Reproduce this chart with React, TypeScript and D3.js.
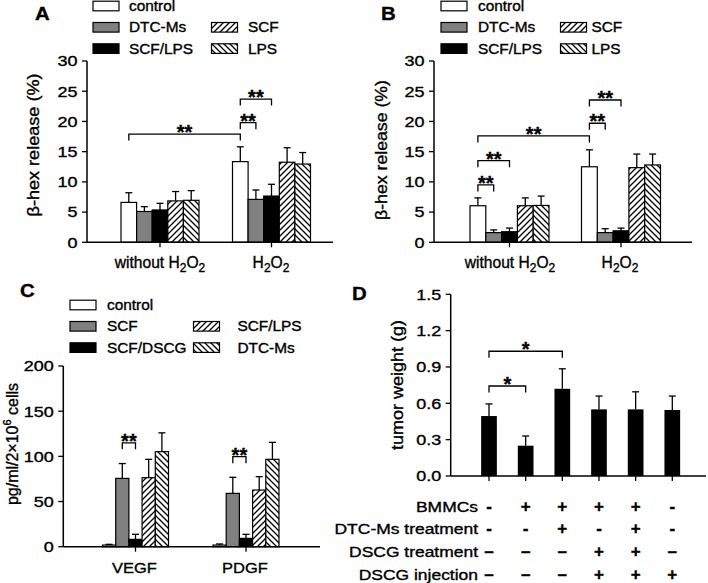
import React from "react";
import * as d3 from "d3";

const FONT = "Arial, 'Liberation Sans', Helvetica, sans-serif";

// ---------- Data ----------
const abFills = ["white", "#808080", "black", "url(#hatchF)", "url(#hatchB)"];
const abSeries = ["control", "DTC-Ms", "SCF/LPS", "SCF", "LPS"];
const aMeans = [
  [6.6, 5.1, 5.35, 6.85, 6.95],
  [13.35, 7.1, 7.65, 13.25, 12.95],
];
const aErrs = [
  [1.6, 0.8, 1.1, 1.55, 1.6],
  [2.45, 1.55, 1.95, 2.4, 1.9],
];
const bMeans = [
  [6.05, 1.6, 1.75, 6.05, 6.1],
  [12.5, 1.6, 1.9, 12.35, 12.8],
];
const bErrs = [
  [1.3, 0.45, 0.6, 1.3, 1.55],
  [2.8, 0.65, 0.45, 2.25, 1.8],
];
const abTicks = [0, 5, 10, 15, 20, 25, 30];

const cSeries = ["control", "SCF", "SCF/DSCG", "SCF/LPS", "DTC-Ms"];
const cFills = ["white", "#808080", "black", "url(#hatchF)", "url(#hatchB)"];
const cCategories = ["VEGF", "PDGF"];
const cMeans = [
  [1.8, 75.6, 8.1, 76.4, 105.2],
  [1.8, 59, 9.2, 62.7, 96.7],
];
const cErrs = [
  [0.8, 16.4, 5.6, 20.3, 20.8],
  [1.2, 17.8, 4.5, 14.8, 18.8],
];
const cTicks = [0, 50, 100, 150, 200];

const dMeans = [0.495, 0.25, 0.72, 0.55, 0.55, 0.545];
const dErrs = [0.1, 0.08, 0.165, 0.11, 0.145, 0.115];
const dTicks = [0, 0.3, 0.6, 0.9, 1.2, 1.5];
const dRowLabels = ["BMMCs", "DTC-Ms treatment", "DSCG treatment", "DSCG injection"];
const dRowSigns = [
  ["-", "+", "+", "+", "+", "-"],
  ["-", "-", "+", "-", "+", "-"],
  ["–", "–", "–", "+", "+", "–"],
  ["–", "–", "–", "+", "+", "+"],
];

// brackets: [group1, series1, group2, series2, yValue, label]
const aBrackets = [
  [0, 0, 1, 0, 17.9, "**"],
  [1, 0, 1, 1, 19.8, "**"],
  [1, 0, 1, 2, 23.7, "**"],
];
const bBrackets = [
  [0, 0, 0, 1, 9.5, "**"],
  [0, 0, 0, 2, 13.5, "**"],
  [0, 0, 1, 0, 17.6, "**"],
  [1, 0, 1, 1, 19.7, "**"],
  [1, 0, 1, 2, 23.55, "**"],
];
const cBrackets = [
  [0, 1, 0, 2, 115, "**"],
  [1, 1, 1, 2, 99.6, "**"],
];
const dBrackets = [
  [0, 1, 0.743, "*"],
  [0, 2, 1.03, "*"],
];

// ---------- Helpers ----------
function ST({ x, y, sx = 1, size, anchor = "start", weight = "normal", dy = 0, children }) {
  return (
    <text
      transform={`translate(${x},${y}) scale(${sx},1)`}
      dy={dy}
      textAnchor={anchor}
      fontSize={size}
      fontWeight={weight}
      fontFamily={FONT}
    >
      {children}
    </text>
  );
}

function Bracket({ x1, x2, y, label, leg = 6.5, size = 20 }) {
  return (
    <g>
      <path
        d={`M${x1},${y + leg}V${y}H${x2}V${y + leg}`}
        fill="none"
        stroke="black"
        strokeWidth={1.3}
      />
      <text x={(x1 + x2) / 2} y={y + 5} textAnchor="middle" fontSize={size} fontWeight="bold" fontFamily={FONT}>
        {label}
      </text>
    </g>
  );
}

function YAxis({ x, scale, ticks, fmt }) {
  const [r0, r1] = scale.range();
  return (
    <g>
      <line x1={x} x2={x} y1={r0} y2={r1} stroke="black" strokeWidth={1.5} />
      {ticks.map((t) => (
        <g key={t}>
          <line x1={x - 5} x2={x} y1={scale(t)} y2={scale(t)} stroke="black" strokeWidth={1.3} />
          <ST x={x - 9.5} y={scale(t)} dy="0.36em" sx={1.2} size={15} anchor="end">
            {fmt ? fmt(t) : t}
          </ST>
        </g>
      ))}
    </g>
  );
}

function Legend({ x1, tx1, x2, tx2, y0, series, fills }) {
  const pos = [
    [x1, tx1, 0],
    [x1, tx1, 1],
    [x1, tx1, 2],
    [x2, tx2, 1],
    [x2, tx2, 2],
  ];
  return (
    <g>
      {series.map((s, i) => {
        const [sx, tx, r] = pos[i];
        const cy = y0 + r * 21.3;
        return (
          <g key={s}>
            <rect x={sx} y={cy - 4.8} width={26} height={9.6} fill={fills[i]} stroke="black" strokeWidth={1.2} />
            <ST x={tx} y={cy} dy="0.36em" sx={1.1} size={14}>
              {s}
            </ST>
          </g>
        );
      })}
    </g>
  );
}

function H2O2({ x, y, prefix }) {
  return (
    <text x={x} y={y} textAnchor="middle" fontSize={15.6} fontFamily={FONT}>
      {prefix}H
      <tspan fontSize={12} dy={4}>2</tspan>
      <tspan dy={-4}>O</tspan>
      <tspan fontSize={12} dy={4}>2</tspan>
    </text>
  );
}

function GroupedPanel({ axisX, axisEnd, yScale, ticks, centers, groupW, means, errs, fills, brackets }) {
  const xc = d3.scaleLinear().domain([0, 1]).range(centers);
  const band = d3.scaleBand().domain(d3.range(means[0].length)).range([-groupW / 2, groupW / 2]).padding(0);
  const bw = band.bandwidth();
  const y0 = yScale(0);
  const barCenter = (g, s) => xc(g) + band(s) + bw / 2;
  return (
    <g>
      {means.map((row, g) =>
        row.map((v, s) => {
          const x = xc(g) + band(s);
          const top = yScale(v);
          const et = yScale(v + errs[g][s]);
          const cx = x + bw / 2;
          return (
            <g key={`${g}-${s}`}>
              <line x1={cx} x2={cx} y1={top} y2={et} stroke="black" strokeWidth={1.3} />
              <line x1={cx - 3.5} x2={cx + 3.5} y1={et} y2={et} stroke="black" strokeWidth={1.3} />
              <rect x={x} y={top} width={bw} height={y0 - top} fill={fills[s]} stroke="black" strokeWidth={1.2} />
            </g>
          );
        })
      )}
      <line x1={axisX} x2={axisEnd} y1={y0} y2={y0} stroke="black" strokeWidth={1.5} />
      {centers.map((c, i) => (
        <line key={i} x1={xc(i)} x2={xc(i)} y1={y0} y2={y0 + 5} stroke="black" strokeWidth={1.3} />
      ))}
      <YAxis x={axisX} scale={yScale} ticks={ticks} />
      {brackets.map((b, i) => (
        <Bracket key={i} x1={barCenter(b[0], b[1])} x2={barCenter(b[2], b[3])} y={yScale(b[4])} label={b[5]} />
      ))}
    </g>
  );
}

function VLabel({ x, y, len, children }) {
  return (
    <text
      transform={`translate(${x},${y}) rotate(-90)`}
      textAnchor="middle"
      fontSize={16}
      fontFamily={FONT}
      textLength={len}
      lengthAdjust="spacingAndGlyphs"
    >
      {children}
    </text>
  );
}

export default function App() {
  const yA = d3.scaleLinear().domain([0, 30]).range([242.3, 61]);
  const yC = d3.scaleLinear().domain([0, 200]).range([546.7, 366]);
  const yD = d3.scaleLinear().domain([0, 1.5]).range([476, 294.3]);
  const xD = d3.scaleLinear().domain([0, 5]).range([489, 672.3]);
  const dBw = 15.7;

  return (
    <svg
      width={708}
      height={583}
      style={{ position: "absolute", left: 0, top: 0, background: "white" }}
      fontFamily={FONT}
    >
      <style>{`text { stroke: black; stroke-width: 0.35px; }`}</style>
      <defs>
        <pattern id="hatchF" patternUnits="userSpaceOnUse" width={6} height={6}>
          <rect width={6} height={6} fill="white" />
          <path d="M-1,1L1,-1M0,6L6,0M5,7L7,5" stroke="black" strokeWidth={1.3} />
        </pattern>
        <pattern id="hatchB" patternUnits="userSpaceOnUse" width={6} height={6}>
          <rect width={6} height={6} fill="white" />
          <path d="M-1,5L1,7M0,0L6,6M5,-1L7,1" stroke="black" strokeWidth={1.3} />
        </pattern>
      </defs>

      {/* Panel A */}
      <ST x={35} y={20} sx={1.1} size={18.5} weight="bold">A</ST>
      <Legend x1={93} tx1={129} x2={211.5} tx2={248} y0={6} series={abSeries} fills={abFills} />
      <GroupedPanel
        axisX={87}
        axisEnd={333}
        yScale={yA}
        ticks={abTicks}
        centers={[160, 271.5]}
        groupW={78}
        means={aMeans}
        errs={aErrs}
        fills={abFills}
        brackets={aBrackets}
      />
      <VLabel x={38.5} y={145} len={143}>β-hex release (%)</VLabel>
      <H2O2 x={160} y={268} prefix="without " />
      <H2O2 x={271} y={268} prefix="" />

      {/* Panel B */}
      <ST x={381} y={20} sx={1.1} size={18.5} weight="bold">B</ST>
      <Legend x1={441} tx1={478} x2={560.5} tx2={591.5} y0={6} series={abSeries} fills={abFills} />
      <GroupedPanel
        axisX={434}
        axisEnd={692}
        yScale={yA}
        ticks={abTicks}
        centers={[509.5, 621]}
        groupW={79}
        means={bMeans}
        errs={bErrs}
        fills={abFills}
        brackets={bBrackets}
      />
      <VLabel x={386.5} y={150} len={140}>β-hex release (%)</VLabel>
      <H2O2 x={510} y={268} prefix="without " />
      <H2O2 x={620} y={268} prefix="" />

      {/* Panel C */}
      <ST x={20} y={297} sx={1.1} size={18.5} weight="bold">C</ST>
      <Legend x1={70} tx1={107} x2={193.5} tx2={237.5} y0={305} series={cSeries} fills={cFills} />
      <GroupedPanel
        axisX={63.3}
        axisEnd={320}
        yScale={yC}
        ticks={cTicks}
        centers={[135.5, 246]}
        groupW={66}
        means={cMeans}
        errs={cErrs}
        fills={cFills}
        brackets={cBrackets}
      />
      <text transform="translate(18,444) rotate(-90)" textAnchor="middle" fontSize={16} fontFamily={FONT}>
        pg/ml/2×10<tspan fontSize={11} dy={-7}>6</tspan>
        <tspan dy={7}> cells</tspan>
      </text>
      {cCategories.map((c, i) => (
        <ST key={c} x={[134.5, 245][i]} y={573} size={15} sx={1.1} anchor="middle">{c}</ST>
      ))}

      {/* Panel D */}
      <ST x={352} y={300} sx={1.1} size={18.5} weight="bold">D</ST>
      {dMeans.map((v, i) => {
        const cx = xD(i);
        const top = yD(v);
        const et = yD(v + dErrs[i]);
        return (
          <g key={i}>
            <line x1={cx} x2={cx} y1={top} y2={et} stroke="black" strokeWidth={1.3} />
            <line x1={cx - 3.5} x2={cx + 3.5} y1={et} y2={et} stroke="black" strokeWidth={1.3} />
            <rect x={cx - dBw / 2} y={top} width={dBw} height={yD(0) - top} fill="black" />
            <line x1={cx} x2={cx} y1={yD(0)} y2={yD(0) + 5} stroke="black" strokeWidth={1.3} />
          </g>
        );
      })}
      <line x1={450.7} x2={706} y1={yD(0)} y2={yD(0)} stroke="black" strokeWidth={1.5} />
      <YAxis x={450.7} scale={yD} ticks={dTicks} fmt={(t) => d3.format(".1f")(t)} />
      {dBrackets.map((b, i) => (
        <Bracket key={i} x1={xD(b[0])} x2={xD(b[1])} y={yD(b[2])} label={b[3]} />
      ))}
      <VLabel x={403} y={385} len={130}>tumor weight (g)</VLabel>
      {dRowLabels.map((lab, r) => {
        const y = [512, 534, 557, 580][r];
        return (
          <g key={lab}>
            <ST x={478} y={y} size={14.8} sx={1.18} anchor="end">{lab}</ST>
            {dRowSigns[r].map((s, i) => (
              <text key={i} x={xD(i)} y={y} textAnchor="middle" fontSize={17} fontWeight="bold" fontFamily={FONT}>{s}</text>
            ))}
          </g>
        );
      })}
    </svg>
  );
}
